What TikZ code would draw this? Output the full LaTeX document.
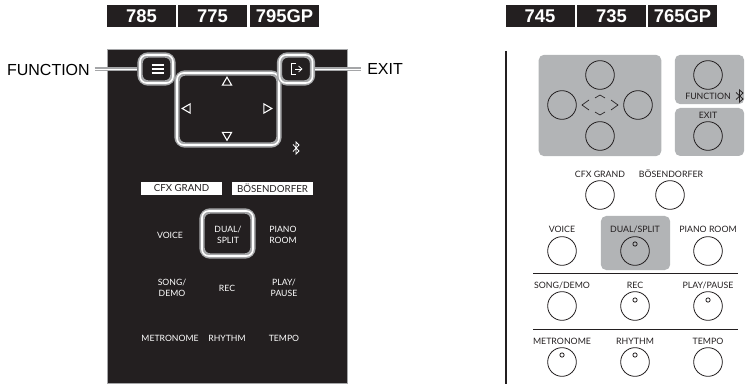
\documentclass[tikz,border=0pt]{standalone}
\usepackage{fontspec}
\setmainfont{Lato}
\newfontfamily\headfont{Liberation Sans}
\usetikzlibrary{positioning, shapes.geometric, arrows.meta}
\definecolor{panelblack}{RGB}{35,31,32}
\definecolor{padgrey}{RGB}{178,180,182}
\definecolor{ringgrey}{RGB}{165,166,168}
\tikzset{
    modeltab/.style={rectangle, fill=panelblack, text=white, minimum width=69pt*0.75, minimum height=22pt*0.75, inner sep=0pt, font=\headfont\bfseries\fontsize{13.8}{16}\selectfont},
    ringbox/.style={rectangle, rounded corners=6pt, draw=ringgrey, line width=4pt, inner sep=0pt},
    ringin/.style={rectangle, rounded corners=5pt, draw=white, line width=1.2pt, inner sep=0pt},
    callout/.style={font=\headfont\fontsize{12}{14}\selectfont, inner sep=0pt},
    pointer/.style={draw=ringgrey, line width=3pt},
    pointerin/.style={draw=white, line width=0.7pt},
    whitetab/.style={rectangle, fill=white, text=panelblack, minimum width=81pt*0.75, minimum height=13pt*0.75, inner sep=0pt, font=\fontsize{7.3}{8}\selectfont},
    paneltext/.style={text=white, align=center, inner sep=0pt, font=\fontsize{6.5}{8.2}\selectfont},
    keytext/.style={text=panelblack, inner sep=0pt, font=\fontsize{6.6}{8}\selectfont},
    keyround/.style={circle, draw=panelblack, line width=0.6pt, minimum size=21.5pt, inner sep=0pt},
    keyled/.style={circle, draw=panelblack, line width=0.6pt, minimum size=3.2pt, inner sep=0pt},
    greypad/.style={rectangle, rounded corners=4pt, fill=padgrey, inner sep=0pt},
    navtri/.style={regular polygon, regular polygon sides=3, draw=white, line width=0.8pt, minimum size=8pt, inner sep=0pt},
    rule/.style={draw=panelblack, line width=0.6pt},
    chev/.style={draw=panelblack, line width=0.5pt}
}
\begin{document}
\begin{tikzpicture}[x=0.75pt, y=-0.75pt]
    \useasboundingbox (0,0) rectangle (755,384);

    % Model tabs
    \node[modeltab] (tab785) at (141.5,16) {785};
    \node[modeltab] (tab775) at (212.5,16) {775};
    \node[modeltab] (tab795) at (284.5,16) {795GP};
    \node[modeltab] (tab745) at (540,16) {745};
    \node[modeltab] (tab735) at (611.5,16) {735};
    \node[modeltab] (tab765) at (682.5,16) {765GP};

    % Black panel
    \node[rectangle, fill=panelblack, draw=ringgrey, line width=0.5pt, minimum width=180pt, minimum height=250.5pt, inner sep=0pt] (panel) at (227,216) {};

    % Highlight rings
    \node[ringbox, minimum width=102pt*0.75, minimum height=72pt*0.75] (hlpad) at (228,109) {};
    \node[ringin, minimum width=102pt*0.75, minimum height=72pt*0.75] (hlpadin) at (228,109) {};
    \node[ringbox, fill=panelblack, minimum width=33pt*0.75, minimum height=28pt*0.75] (hlfunc) at (156.5,69) {};
    \node[ringin, minimum width=33pt*0.75, minimum height=28pt*0.75] (hlfuncin) at (156.5,69) {};
    \node[ringbox, fill=panelblack, minimum width=33pt*0.75, minimum height=28pt*0.75] (hlexit) at (296,69) {};
    \node[ringin, minimum width=33pt*0.75, minimum height=28pt*0.75] (hlexitin) at (296,69) {};
    \node[ringbox, minimum width=51pt*0.75, minimum height=45pt*0.75] (hldual) at (227.5,233.5) {};
    \node[ringin, minimum width=51pt*0.75, minimum height=45pt*0.75] (hldualin) at (227.5,233.5) {};

    % Callouts
    \node[callout, anchor=east] (lblfunc) at (90,69.5) {FUNCTION};
    \node[callout, anchor=west] (lblexit) at (367,69.5) {EXIT};
    \coordinate[right=3.5pt of lblfunc.east] (funcstart);
    \coordinate[left=4.5pt of lblexit.west] (exitstart);
    \draw[pointer] (funcstart) -- (funcstart -| hlfunc.west);
    \draw[pointerin] (funcstart) -- (funcstart -| hlfunc.west);
    \draw[pointer] (exitstart) -- (exitstart -| hlexit.east);
    \draw[pointerin] (exitstart) -- (exitstart -| hlexit.east);

    % Icons on the panel
    \foreach \yy in {-4,0,4}
        \draw[white, line width=1.1pt] (151.5,69+\yy) -- (163.5,69+\yy);
    \draw[white, line width=0.6pt] (296,63.5) -- (291.5,63.5) -- (291.5,74.5) -- (296,74.5);
    \draw[white, line width=0.6pt, -{Straight Barb[length=2.5pt,width=4.5pt]}] (295,69) -- (302.5,69);
    \node[navtri] (triup) at (227,82.5) {};
    \node[navtri, rotate=180] (tridown) at (227,135) {};
    \node[navtri, rotate=90] (trileft) at (187.5,108.5) {};
    \node[navtri, rotate=-90] (triright) at (266.5,108.5) {};
    % Bluetooth mark
    \draw[white, line width=0.6pt] (293,144.5) -- (299,151) -- (296,154) -- (296,142) -- (299,145) -- (293,151.5);

    % Panel labels
    \node[whitetab] (tabcfx) at (181.5,188.5) {CFX GRAND};
    \node[whitetab] (tabbos) at (272.5,188.5) {BÖSENDORFER};
    \node[paneltext] (txtvoice) at (170,235) {VOICE};
    \node[paneltext] (txtdual) at (228,235) {DUAL/\\SPLIT};
    \node[paneltext] (txtpiano) at (283,235) {PIANO\\ROOM};
    \node[paneltext] (txtsong) at (172,288) {SONG/\\DEMO};
    \node[paneltext] (txtrec) at (227,288) {REC};
    \node[paneltext] (txtplay) at (284,288) {PLAY/\\PAUSE};
    \node[paneltext] (txtmetro) at (170,338) {METRONOME};
    \node[paneltext] (txtrhythm) at (227,338) {RHYTHM};
    \node[paneltext] (txttempo) at (284,338) {TEMPO};

    % Grey pads, right side
    \draw[line width=1pt, panelblack] (506,51) -- (506,384);
    \node[greypad, minimum width=92pt, minimum height=76pt] (padnav) at (600,105.5) {};
    \node[greypad, minimum width=52pt, minimum height=37pt] (padfunc) at (709.5,79.5) {};
    \node[greypad, minimum width=52pt, minimum height=36pt] (padexit) at (709.5,132) {};
    \node[greypad, minimum width=52pt, minimum height=40.5pt] (paddual) at (635.5,243) {};

    % Round keys
    \node[keyround] (keyup) at (600,75) {};
    \node[keyround] (keyleft) at (562,105) {};
    \node[keyround] (keyright) at (638,105) {};
    \node[keyround] (keydown) at (600,136) {};
    \node[keyround] (keyfunc) at (708,75) {};
    \node[keyround] (keyexit) at (708,136) {};
    \draw[chev] (589,100) -- (582,105) -- (589,110);
    \draw[chev] (611,100) -- (618,105) -- (611,110);
    \draw[chev] (595,98) -- (600,95) -- (605,98);
    \draw[chev] (595,112) -- (600,115) -- (605,112);
    \node[keytext] (capfunc) at (708,96) {FUNCTION};
    \node[keytext] (capexit) at (708,115) {EXIT};
    \draw[panelblack, line width=0.6pt] (736,92.5) -- (743,99) -- (739.5,102) -- (739.5,90) -- (743,93) -- (736,99.5);

    \node[keytext] (capcfx) at (600,174) {CFX GRAND};
    \node[keytext] (capbos) at (671,174) {BÖSENDORFER};
    \node[keyround] (keycfx) at (600,195) {};
    \node[keyround] (keybos) at (670,195) {};

    \node[keytext] (capvoice) at (562,229) {VOICE};
    \node[keytext] (capdual) at (635,229) {DUAL/SPLIT};
    \node[keytext] (cappiano) at (708,229) {PIANO ROOM};
    \node[keyround] (keyvoice) at (562,251) {};
    \node[keyround] (keydual) at (635,251) {};
    \node[keyround] (keypiano) at (708,251) {};

    \node[keytext] (capsong) at (562,285) {SONG/DEMO};
    \node[keytext] (caprec) at (635,285) {REC};
    \node[keytext] (capplay) at (708,285) {PLAY/PAUSE};
    \node[keyround] (keysong) at (562,306) {};
    \node[keyround] (keyrec) at (635,306) {};
    \node[keyround] (keyplay) at (708,306) {};

    \node[keytext] (capmetro) at (562,341) {METRONOME};
    \node[keytext] (caprhythm) at (635,341) {RHYTHM};
    \node[keytext] (captempo) at (708,341) {TEMPO};
    \node[keyround] (keymetro) at (562,362) {};
    \node[keyround] (keyrhythm) at (635,362) {};
    \node[keyround] (keytempo) at (708,362) {};

    % LEDs
    \node[keyled] (leddual) at (635,244) {};
    \node[keyled] (ledrec) at (635,300) {};
    \node[keyled] (ledplay) at (708,300) {};
    \node[keyled] (ledmetro) at (562,355) {};
    \node[keyled] (ledrhythm) at (635,355) {};

    % Rules between rows
    \draw[rule] (533,273) -- (738,273);
    \draw[rule] (533,329) -- (738,329);
\end{tikzpicture}
\end{document}
